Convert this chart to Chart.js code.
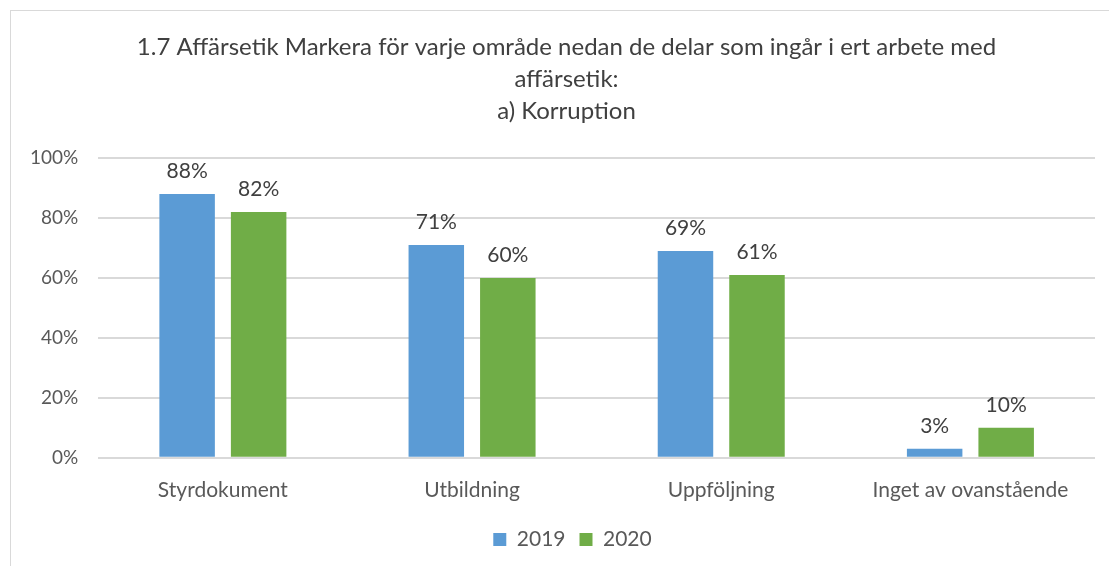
<!DOCTYPE html>
<html><head><meta charset="utf-8">
<script src="https://cdn.jsdelivr.net/npm/chart.js@4/dist/chart.umd.min.js"></script>
<style>
html,body{margin:0;padding:0;background:#fff;}
#wrap{position:absolute;left:0;top:0;width:1109px;height:566px;}
#frame{position:absolute;left:10px;top:10px;width:1110px;height:580px;border:1px solid #d9d9d9;box-sizing:border-box;}
canvas{position:absolute;left:0;top:0;}
</style></head>
<body>
<div id="wrap"><div id="frame"></div><canvas id="c" width="1109" height="566"></canvas></div>
<script>
const categories = ["Styrdokument", "Utbildning", "Uppföljning", "Inget av ovanstående"];
const values2019 = [88, 71, 69, 3];
const values2020 = [82, 60, 61, 10];
const seriesLabels = ["2019", "2020"];
const yTicks = [0, 20, 40, 60, 80, 100];
const titleLines = ["1.7 Affärsetik Markera för varje område nedan de delar som ingår i ert arbete med", "affärsetik:", "a) Korruption"];

const FONT = "Lato, 'Open Sans', sans-serif";

const labelPlugin = {
  id: 'barLabels',
  afterDatasetsDraw(chart) {
    const ctx = chart.ctx;
    ctx.save();
    ctx.font = "21px " + FONT;
    ctx.fillStyle = "#404040";
    ctx.textAlign = "center";
    ctx.textBaseline = "middle";
    chart.data.datasets.forEach((ds, i) => {
      chart.getDatasetMeta(i).data.forEach((bar, j) => {
        ctx.fillText(ds.data[j] + "%", bar.x, bar.y - 23);
      });
    });
    ctx.restore();
  }
};

// centre title and legend on the whole chart frame (as in the original), not only on the padded area
const centrePlugin = {
  id: 'frameCentre',
  afterLayout(chart) {
    const t = chart.titleBlock;
    if (t) { t.left += 14; t.right += 14; }
    const l = chart.legend;
    if (l) { l.left += 20; l.right += 20; }
  }
};

function build() {
  new Chart(document.getElementById('c'), {
    type: 'bar',
    data: {
      labels: categories,
      datasets: [
        {label: seriesLabels[0], data: values2019, backgroundColor: '#5b9bd5', barPercentage: 0.776, categoryPercentage: 0.574},
        {label: seriesLabels[1], data: values2020, backgroundColor: '#70ad47', barPercentage: 0.776, categoryPercentage: 0.574}
      ]
    },
    plugins: [labelPlugin, centrePlugin],
    options: {
      responsive: false,
      animation: false,
      layout: {padding: {left: 10, right: 14, top: 31, bottom: 6}},
      plugins: {
        title: {display: true, text: titleLines, color: '#404040', font: {family: FONT, size: 24, weight: 'normal', lineHeight: 1.333}, padding: {top: 0, bottom: 31}},
        legend: {position: 'bottom', labels: {color: '#595959', font: {family: FONT, size: 21}, boxWidth: 13, boxHeight: 13, padding: 14}},
        tooltip: {enabled: false}
      },
      scales: {
        x: {
          grid: {display: false},
          border: {display: false},
          ticks: {color: '#595959', font: {family: FONT, size: 21}, padding: 12}
        },
        y: {
          min: 0, max: 100,
          afterBuildTicks(scale) { scale.ticks = yTicks.map(v => ({value: v})); },
          grid: {color: '#d9d9d9', lineWidth: 2, drawTicks: false},
          border: {display: false},
          ticks: {color: '#595959', font: {family: FONT, size: 19}, padding: 20, callback: v => v + '%'}
        }
      }
    }
  });
}

if (document.fonts && document.fonts.load) {
  Promise.all([document.fonts.load('21px Lato'), document.fonts.load('24px Lato')]).then(build, build);
} else {
  build();
}
</script>
</body></html>
